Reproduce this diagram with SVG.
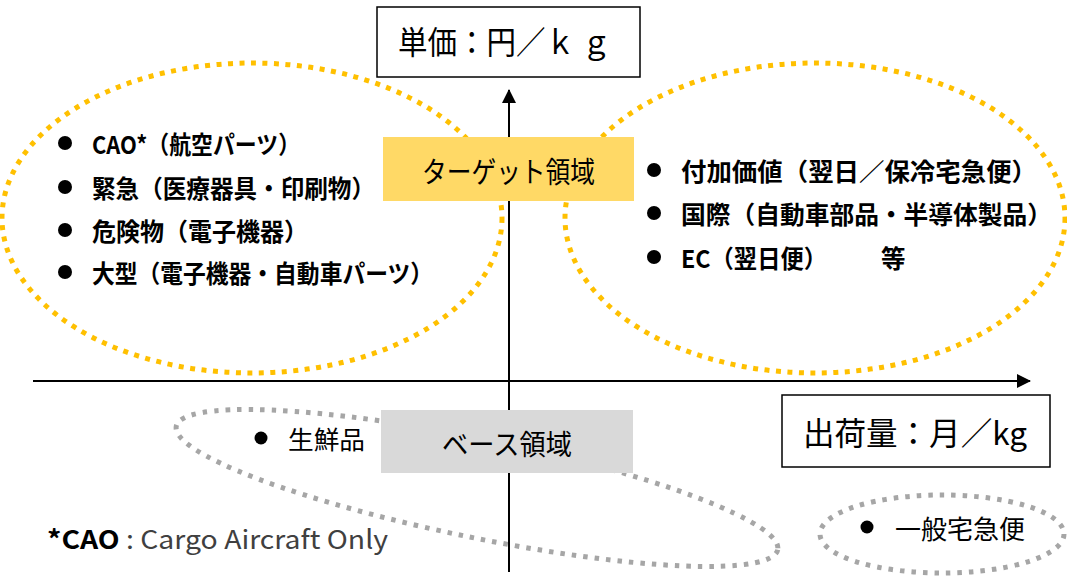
<svg xmlns="http://www.w3.org/2000/svg" width="1067" height="580" viewBox="0 0 1067 580">
<defs>
<marker id="arr" viewBox="0 0 14 14" refX="13" refY="7" markerWidth="14" markerHeight="14" markerUnits="userSpaceOnUse" orient="auto">
<path d="M0,0 L14,7 L0,14 Z" fill="#000"/>
</marker>
<style>
.jp{font-family:"Noto Sans CJK JP","Noto Sans",sans-serif;fill:#000;}
.b{font-weight:bold;}
.mid{dominant-baseline:central;}
.ydot{fill:none;stroke:#FFC000;stroke-width:5;stroke-dasharray:5 6.5;}
.gdot{fill:none;stroke:#A6A6A6;stroke-width:5;stroke-dasharray:4.5 7;}
.axis{stroke:#000;stroke-width:2;fill:none;}
.frame{fill:#fff;stroke:#000;stroke-width:1.5;}
</style>
</defs>
<rect width="1067" height="580" fill="#fff"/>

<g id="ellipses">
<ellipse id="target-left-region" class="ydot" cx="252" cy="218" rx="250" ry="155"/>
<ellipse id="target-right-region" class="ydot" cx="815" cy="218" rx="250" ry="155"/>
<ellipse id="base-region" class="gdot" cx="477" cy="488" rx="307" ry="49.5" transform="rotate(11.6 477 488)"/>
<ellipse id="parcel-region" class="gdot" cx="942" cy="534" rx="122" ry="39"/>
</g>

<g id="connectors">
<line class="axis" x1="509" y1="572" x2="509" y2="90" marker-end="url(#arr)"/>
<line class="axis" x1="33" y1="381" x2="1030" y2="381" marker-end="url(#arr)"/>
</g>

<g id="y-axis-label">
<rect class="frame" x="377" y="7" width="263" height="70"/>
<text class="jp mid" x="398" y="40" font-size="32" textLength="213" lengthAdjust="spacingAndGlyphs">単価：円／ｋ ｇ</text>
</g>

<g id="x-axis-label">
<rect class="frame" x="782" y="395" width="268" height="72"/>
<text class="jp mid" x="803" y="431" font-size="32" textLength="224" lengthAdjust="spacingAndGlyphs">出荷量：月／kg</text>
</g>

<g id="target-area">
<rect x="383" y="137" width="251" height="64" fill="#FFD966"/>
<text class="jp mid" x="422" y="170" font-size="29" textLength="173" lengthAdjust="spacingAndGlyphs">ターゲット領域</text>
</g>

<g id="base-area">
<rect x="381" y="410" width="252" height="63" fill="#D9D9D9"/>
<text class="jp mid" x="442" y="443" font-size="28" textLength="130" lengthAdjust="spacingAndGlyphs">ベース領域</text>
</g>

<g id="left-list">
<circle cx="65" cy="143" r="7"/>
<text class="jp b mid" x="92" y="143" font-size="24.5" textLength="208" lengthAdjust="spacingAndGlyphs">CAO*（航空パーツ）</text>
<circle cx="65" cy="187" r="7"/>
<text class="jp b mid" x="92" y="187" font-size="24.5" textLength="283" lengthAdjust="spacingAndGlyphs">緊急（医療器具・印刷物）</text>
<circle cx="65" cy="230" r="7"/>
<text class="jp b mid" x="92" y="230" font-size="24.5" textLength="216" lengthAdjust="spacingAndGlyphs">危険物（電子機器）</text>
<circle cx="65" cy="272" r="7"/>
<text class="jp b mid" x="92" y="272" font-size="24.5" textLength="341" lengthAdjust="spacingAndGlyphs">大型（電子機器・自動車パーツ）</text>
</g>

<g id="right-list">
<circle cx="654" cy="170" r="7"/>
<text class="jp b mid" x="681" y="170" font-size="24.5" textLength="356" lengthAdjust="spacingAndGlyphs">付加価値（翌日／保冷宅急便）</text>
<circle cx="654" cy="213" r="7"/>
<text class="jp b mid" x="681" y="213" font-size="24.5" textLength="371" lengthAdjust="spacingAndGlyphs">国際（自動車部品・半導体製品）</text>
<circle cx="654" cy="257" r="7"/>
<text class="jp b mid" x="681" y="257" font-size="24.5" textLength="146" lengthAdjust="spacingAndGlyphs">EC（翌日便）</text>
<text class="jp b mid" x="881" y="257" font-size="24.5">等</text>
</g>

<g id="fresh-item">
<circle cx="261" cy="438" r="6.5"/>
<text class="jp mid" x="288" y="438" font-size="25" textLength="77" lengthAdjust="spacingAndGlyphs">生鮮品</text>
</g>

<g id="parcel-item">
<circle cx="867" cy="527" r="6.5"/>
<text class="jp mid" x="895" y="527" font-size="26" textLength="130" lengthAdjust="spacingAndGlyphs">一般宅急便</text>
</g>

<g id="footnote">
<text class="jp mid" x="47" y="537" font-size="26" textLength="341" lengthAdjust="spacingAndGlyphs"><tspan font-weight="bold" fill="#000">*CAO</tspan><tspan fill="#404040"> : Cargo Aircraft Only</tspan></text>
</g>
</svg>
